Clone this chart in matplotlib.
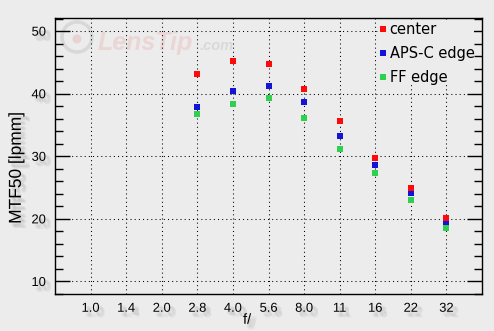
import matplotlib
matplotlib.use("Agg")
import matplotlib.pyplot as plt
import matplotlib.patheffects as pe
from matplotlib.ticker import MultipleLocator
from matplotlib.lines import Line2D
from matplotlib.patches import Ellipse

# przysłony i odczytane wartości MTF50
f_labels = ['1.0', '1.4', '2.0', '2.8', '4.0', '5.6', '8.0', '11', '16', '22', '32']
meas_labels = ['2.8', '4.0', '5.6', '8.0', '11', '16', '22', '32']
center = [43.1, 45.2, 44.8, 40.8, 35.6, 29.8, 25.0, 20.1]
apsc_edge = [37.8, 40.4, 41.3, 38.6, 33.2, 28.55, 24.1, 19.2]
ff_edge = [36.7, 38.4, 39.25, 36.2, 31.1, 27.4, 22.95, 18.6]

BG = '#ececec'
C_RED = '#ff0a0a'
C_BLUE = '#1414d8'
C_GREEN = '#2fcf4f'

# rozmyty cień pod napisami
shadow = [pe.SimplePatchShadow(offset=(dx, dy), shadow_rgbFace='#777777', alpha=0.07)
          for dx, dy in [(2, -2), (3, -3), (4, -4), (3, -2), (2, -3), (4, -3), (3, -4)]] + [pe.Normal()]

plt.rcParams['font.family'] = ['Liberation Sans', 'DejaVu Sans']

fig = plt.figure(figsize=(4.94, 3.31), dpi=100, facecolor=BG)
ax = fig.add_axes([55 / 494, 1 - 294 / 331, 427 / 494, 276 / 331], facecolor='none')

# watermark (pod osiami)
fig.add_artist(Ellipse((77 / 494, 1 - 37 / 331), 30 / 494, 30 / 331, transform=fig.transFigure,
                       fill=False, ec='#d8d8d8', lw=2.5, zorder=-2))
fig.add_artist(Ellipse((77 / 494, 1 - 39 / 331), 9 / 494, 9 / 331, transform=fig.transFigure,
                       fc='#e8d2d2', ec='none', zorder=-2))
fig.text(98 / 494, 1 - 43 / 331, 'LensTip', fontsize=18, fontstyle='italic', fontweight='bold',
         color='#ebd5d5', va='center', ha='left', zorder=-2)
fig.text(200 / 494, 1 - 46 / 331, '.com', fontsize=10.5, fontstyle='italic', fontweight='bold',
         color='#d9d9d9', va='center', ha='left', zorder=-2)

idx = [f_labels.index(f) for f in meas_labels]
ax.plot(idx, apsc_edge, 's', color=C_BLUE, ms=3.8, mew=0, zorder=3)
ax.plot(idx, ff_edge, 's', color=C_GREEN, ms=3.8, mew=0, zorder=4)
ax.plot(idx, center, 's', color=C_RED, ms=3.8, mew=0, zorder=5)

ax.set_xlim(-1, len(f_labels))
ax.set_ylim(8, 52.1)
ax.set_xticks(range(len(f_labels)))
ax.set_xticklabels(f_labels)
ax.yaxis.set_major_locator(MultipleLocator(10))
ax.yaxis.set_minor_locator(MultipleLocator(2))

ax.grid(True, which='major', color='black', linestyle=(0, (1, 3)), linewidth=0.75)
ax.tick_params(axis='x', length=0, pad=6.3, labelsize=9.3)
ax.tick_params(axis='y', which='both', direction='in', left=True, right=True,
               width=1, labelsize=9.3, pad=6.5)
ax.tick_params(axis='y', which='major', length=11)
ax.tick_params(axis='y', which='minor', length=5.8)
for s in ax.spines.values():
    s.set_linewidth(1.0)

for lab in ax.get_xticklabels() + ax.get_yticklabels():
    lab.set_path_effects(shadow)

ax.set_xlabel('f/', fontsize=10.5, path_effects=shadow)
ax.xaxis.set_label_coords(0.45, -0.068)
ax.set_ylabel('MTF50 [lpmm]', fontsize=12.5, path_effects=shadow)
ax.yaxis.set_label_coords(-0.073, 0.457)

handles = [Line2D([], [], ls='none', marker='s', ms=3.8, mew=0, color=c)
           for c in (C_RED, C_BLUE, C_GREEN)]
leg = ax.legend(handles, ['center', 'APS-C edge', 'FF edge'], loc='upper left',
                bbox_to_anchor=(378.6 / 494, 1 - 22 / 331), bbox_transform=fig.transFigure,
                prop={'family': 'DejaVu Sans', 'size': 10.5}, frameon=True,
                facecolor=BG, edgecolor='none', framealpha=1, fancybox=False,
                borderpad=0.0, borderaxespad=0, handlelength=0.6, handletextpad=0.15,
                labelspacing=0.62)
leg.set_zorder(6)

fig.savefig('out.png', dpi=100, facecolor=BG)
